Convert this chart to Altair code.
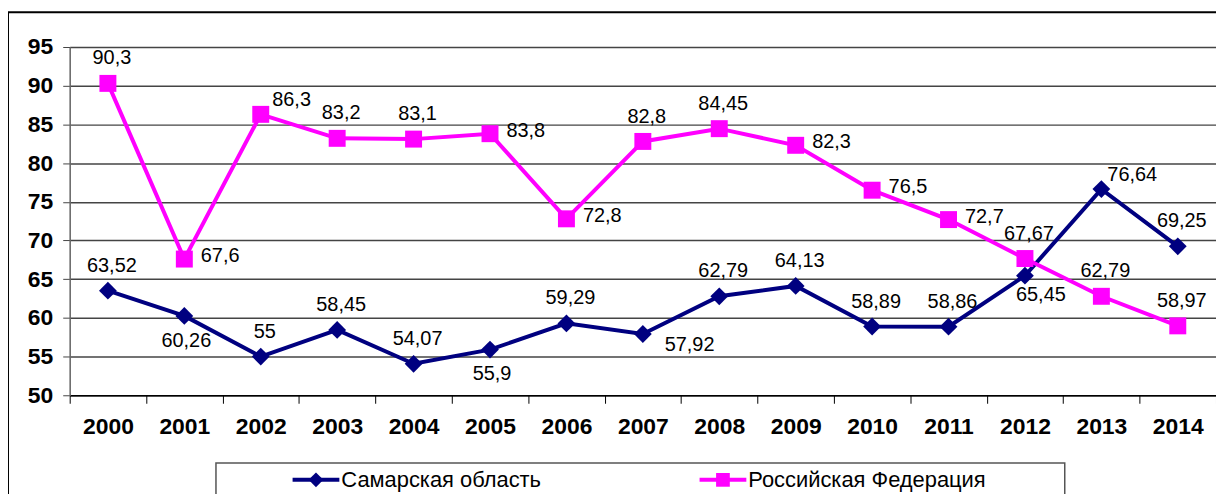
import altair as alt
import pandas as pd

years = [str(y) for y in range(2000, 2015)]
samara = [63.52, 60.26, 55, 58.45, 54.07, 55.9, 59.29, 57.92, 62.79, 64.13, 58.89, 58.86, 65.45, 76.64, 69.25]
russia = [90.3, 67.6, 86.3, 83.2, 83.1, 83.8, 72.8, 82.8, 84.45, 82.3, 76.5, 72.7, 67.67, 62.79, 58.97]
series_names = ["Самарская область", "Российская Федерация"]
colors = ["#000080", "#FF00FF"]
shapes = ["diamond", "square"]
y_ticks = [50, 55, 60, 65, 70, 75, 80, 85, 90, 95]

# label placement categories (style)
samara_place = ["above", "below", "above", "above", "above", "below", "above", "downright",
                "above", "above", "above", "above", "below_r", "upright", "above"]
russia_place = ["above", "right", "upright", "above", "above", "right", "right", "above",
                "above", "right", "right", "right", "above", "above", "above"]
offsets = {
    "above": (4, -25),
    "below": (2, 25),
    "below_r": (16, 19),
    "right": (36, -3),
    "upright": (31, -14),
    "downright": (47, 11),
}

FONT = "Liberation Sans"
W, H = 1152, 350

rows = []
for name, vals, places in [(series_names[0], samara, samara_place), (series_names[1], russia, russia_place)]:
    for yr, v, p in zip(years, vals, places):
        rows.append({"year": yr, "value": v, "series": name,
                     "label": f"{v:g}".replace(".", ","), "place": p})
df = pd.DataFrame(rows)

x_enc = alt.X("year:O", sort=years,
              scale=alt.Scale(type="band", paddingInner=0, paddingOuter=0),
              axis=alt.Axis(title=None, labelAngle=0, tickBand="extent", tickSize=8,
                            tickColor="black", domainColor="black", domainWidth=1.5,
                            labelFont=FONT, labelFontSize=23, labelFontWeight="bold",
                            labelColor="black", labelPadding=12, grid=False))
y_enc = alt.Y("value:Q",
              scale=alt.Scale(domain=[50, 95], nice=False, zero=False),
              axis=alt.Axis(title=None, values=y_ticks, tickSize=7, tickColor="#444",
                            domainColor="#666", domainWidth=1.5,
                            labelFont=FONT, labelFontSize=23, labelFontWeight="bold",
                            labelColor="black", labelPadding=10,
                            grid=True, gridColor="#444", gridWidth=1.5))

layers = []
for i, name in enumerate(series_names):
    base = alt.Chart(df).transform_filter(alt.datum.series == name)
    layers.append(base.mark_line(strokeWidth=4, color=colors[i]).encode(x=x_enc, y=y_enc))
    layers.append(base.mark_point(filled=True, opacity=1, size=320 if i == 0 else 290,
                                  shape=shapes[i], color=colors[i]).encode(x=x_enc, y=y_enc))

for p, (dx, dy) in offsets.items():
    layers.append(alt.Chart(df).transform_filter(alt.datum.place == p)
                  .mark_text(dx=dx, dy=dy, font=FONT, fontSize=20, color="black",
                             align="center", baseline="middle")
                  .encode(x=x_enc, y=y_enc, text="label:N"))

# outer frame
one = pd.DataFrame({"k": [0]})
layers.append(alt.Chart(one).mark_rect(filled=False, stroke="black", strokeWidth=2).encode(
    x=alt.value(-62), x2=alt.value(W + 1), y=alt.value(-35), y2=alt.value(470)))

# legend box
layers.append(alt.Chart(one).mark_rect(filled=False, stroke="#555", strokeWidth=1.5).encode(
    x=alt.value(147), x2=alt.value(1000), y=alt.value(418), y2=alt.value(470)))

leg_x = [224, 633]
LEG_Y = 435
for i, name in enumerate(series_names):
    ld = pd.DataFrame({"name": [name]})
    lx = leg_x[i]
    layers.append(alt.Chart(ld).mark_rule(strokeWidth=4, color=colors[i]).encode(
        x=alt.value(lx), x2=alt.value(lx + 47), y=alt.value(LEG_Y)))
    layers.append(alt.Chart(ld).mark_point(filled=True, opacity=1, size=220 if i == 0 else 190,
                                           shape=shapes[i], color=colors[i]).encode(
        x=alt.value(lx + 23.5), y=alt.value(LEG_Y)))
    layers.append(alt.Chart(ld).mark_text(font=FONT, fontSize=22, color="black", align="left",
                                          baseline="middle").encode(
        x=alt.value(lx + 49), y=alt.value(LEG_Y), text="name:N"))

chart = alt.layer(*layers).properties(
    width=W, height=H,
    autosize=alt.AutoSizeParams(type="none"),
    padding={"left": 62, "top": 38, "right": 0, "bottom": 98},
).configure_view(stroke="#808080", strokeWidth=1.5).configure(background="white")

chart.save("out.html", embed_options={"renderer": "svg", "actions": False})
